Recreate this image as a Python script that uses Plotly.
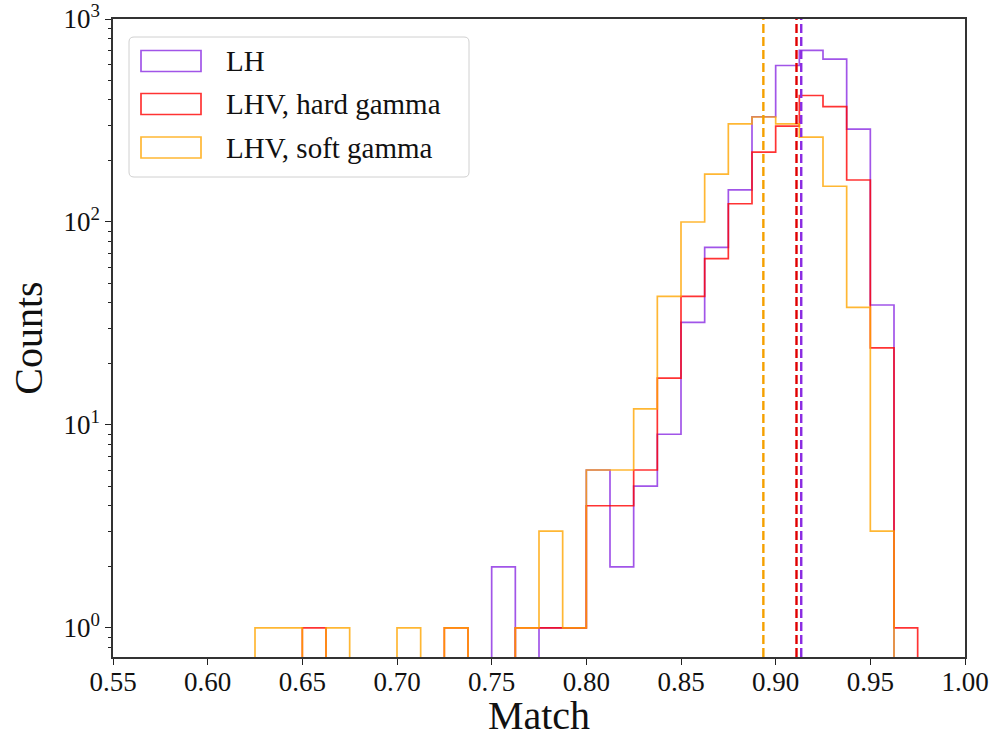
import plotly.graph_objects as go

# ---------------- data ----------------
bin_edges = [0.625, 0.6375, 0.65, 0.6625, 0.675, 0.6875, 0.70, 0.7125, 0.725, 0.7375,
             0.75, 0.7625, 0.775, 0.7875, 0.80, 0.8125, 0.825, 0.8375, 0.85, 0.8625,
             0.875, 0.8875, 0.90, 0.9125, 0.925, 0.9375, 0.95, 0.9625, 0.975]

lh_counts = [0, 0, 0, 0, 0, 0, 0, 0, 0, 0,
             2, 0, 1, 1, 6, 2, 5, 9, 32, 75,
             144, 330, 590, 700, 635, 287, 39, 0]
hard_counts = [0, 0, 1, 0, 0, 0, 0, 0, 1, 0,
               0, 1, 1, 1, 4, 4, 6, 17, 43, 66,
               123, 221, 297, 420, 370, 161, 24, 1]
soft_counts = [1, 1, 0, 1, 0, 0, 1, 0, 1, 0,
               0, 1, 3, 1, 6, 6, 12, 43, 100, 172,
               304, 329, 304, 262, 150, 38, 3, 0]

series_names = ["LH", "LHV, hard gamma", "LHV, soft gamma"]
series_counts = [lh_counts, hard_counts, soft_counts]
mean_match = [0.9135, 0.911, 0.8935]

hist_colors = ["rgba(138,43,226,0.8)", "rgba(255,0,0,0.8)", "rgba(255,165,0,0.8)"]
line_colors = ["#8a2be2", "#e00000", "#f5a000"]

y_tickvals = [1, 10, 100, 1000]
y_ticktext = ["10<sup>0</sup>", "10<sup>1</sup>", "10<sup>2</sup>", "10<sup>3</sup>"]
y_minor_vals = [0.8, 0.9] + [m * 10 ** e for e in range(0, 3) for m in range(2, 10)]
x_tickvals = [0.55, 0.60, 0.65, 0.70, 0.75, 0.80, 0.85, 0.90, 0.95, 1.00]

FONT = "Liberation Serif, Times New Roman, serif"
FLOOR = 1e-3


def step_xy(edges, counts):
    xs = [edges[0]]
    ys = [FLOOR]
    for i, c in enumerate(counts):
        xs.append(edges[i])
        ys.append(c if c > 0 else FLOOR)
    xs.append(edges[-1])
    ys.append(counts[-1] if counts[-1] > 0 else FLOOR)
    xs.append(edges[-1])
    ys.append(FLOOR)
    return xs, ys


fig = go.Figure()
for name, counts, col in zip(series_names, series_counts, hist_colors):
    xs, ys = step_xy(bin_edges, counts)
    fig.add_trace(go.Scatter(x=xs, y=ys, mode="lines", line_shape="hv",
                             line=dict(color=col, width=1.7), name=name,
                             showlegend=False, hoverinfo="skip"))

for v, col in zip(mean_match, line_colors):
    fig.add_shape(type="line", xref="x", yref="paper", x0=v, x1=v, y0=0, y1=1,
                  line=dict(color=col, width=2.4, dash="9px,4px"))

# ---------------- layout geometry ----------------
W, H = 994, 738
L, R, T, B = 113, 965, 19, 657
pw, ph = R - L, B - T


def px(xp):
    return (xp - L) / pw


def py(yp):
    return 1 - (yp - T) / ph


# legend frame (rounded)
x0, x1, y0, y1 = px(129), px(469), py(177), py(37)
rx, ry = 5 / pw, 5 / ph
path = (f"M{x0+rx},{y0} L{x1-rx},{y0} Q{x1},{y0} {x1},{y0+ry} "
        f"L{x1},{y1-ry} Q{x1},{y1} {x1-rx},{y1} L{x0+rx},{y1} "
        f"Q{x0},{y1} {x0},{y1-ry} L{x0},{y0+ry} Q{x0},{y0} {x0+rx},{y0} Z")
fig.add_shape(type="path", xref="paper", yref="paper", path=path,
              fillcolor="rgba(255,255,255,0.85)", line=dict(color="#d0d0d0", width=1))

row_centers = [61, 104, 147.5]
for name, col, yc in zip(series_names, hist_colors, row_centers):
    fig.add_shape(type="rect", xref="paper", yref="paper",
                  x0=px(141), x1=px(201), y0=py(yc + 10.5), y1=py(yc - 10.5),
                  line=dict(color=col, width=1.7), fillcolor="rgba(0,0,0,0)")
    fig.add_annotation(xref="paper", yref="paper", x=px(224), y=py(yc),
                       text=name, showarrow=False, xanchor="left", yanchor="middle",
                       font=dict(family=FONT, size=29, color="#111"))

fig.update_layout(
    width=W, height=H,
    margin=dict(l=L, r=W - R, t=T, b=H - B, pad=0, autoexpand=False),
    plot_bgcolor="white", paper_bgcolor="white",
    font=dict(family=FONT, color="#111"),
    showlegend=False,
)
fig.update_xaxes(range=[0.55, 1.0], tickvals=x_tickvals, tickformat=".2f",
                 automargin=False, ticklabelstandoff=-6,
                 ticks="outside", ticklen=6, tickwidth=1.3, tickcolor="#222",
                 showline=True, linecolor="#333", linewidth=1.5, mirror=True,
                 showgrid=False, zeroline=False,
                 tickfont=dict(family=FONT, size=27, color="#111"),
                 title=dict(text="Match", font=dict(family=FONT, size=40, color="#111"), standoff=6))
fig.update_yaxes(type="log", range=[-0.143, 3], tickvals=y_tickvals, ticktext=y_ticktext,
                 automargin=False,
                 ticks="outside", ticklen=6, tickwidth=1.3, tickcolor="#222",
                 minor=dict(ticks="outside", ticklen=3.5, tickwidth=1, tickcolor="#222",
                            tickmode="array", tickvals=y_minor_vals, showgrid=False),
                 showline=True, linecolor="#333", linewidth=1.5, mirror=True,
                 showgrid=False, zeroline=False,
                 tickfont=dict(family=FONT, size=27, color="#111"),
                 title=dict(text="Counts", font=dict(family=FONT, size=40, color="#111"), standoff=8))

fig.write_html("out.html")
